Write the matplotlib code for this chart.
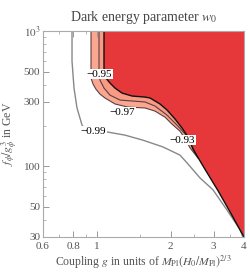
import matplotlib
matplotlib.use("Agg")
import matplotlib.pyplot as plt
from matplotlib.ticker import FixedLocator, FixedFormatter, NullFormatter
import numpy as np

plt.rcParams['font.family'] = ['Liberation Serif', 'DejaVu Serif']
plt.rcParams['mathtext.fontset'] = 'stix'

# contour w0 = -0.93 (boundary of red region)
g_093 = [1.067, 1.067, 1.087, 1.129, 1.184, 1.265, 1.390, 1.571, 1.648, 1.810, 1.934,
         2.085, 2.228, 2.357, 2.472, 2.768, 3.130, 3.506, 4.0]
f_093 = [1000, 515, 449, 413, 379, 348, 331, 325, 320, 289, 261,
         224, 192, 165, 134, 95, 66, 46, 30]
# contour w0 = -0.95
g_095 = [1.018, 1.018, 1.027, 1.067, 1.129, 1.241, 1.390, 1.571, 1.727, 1.934,
         2.146, 2.336, 2.449, 2.543]
f_095 = [1000, 515, 434, 379, 336, 309, 304, 299, 279, 239,
         198, 167, 141, 123]
# contour w0 = -0.97
g_097 = [0.944, 0.944, 0.962, 0.989, 1.027, 1.077, 1.184, 1.338, 1.571, 1.727,
         1.898, 2.028, 2.186, 2.314, 2.403, 2.591]
f_097 = [1000, 449, 406, 372, 342, 320, 289, 274, 270, 256,
         231, 205, 182, 156, 137, 115]
# contour w0 = -0.99
g_099 = [0.789, 0.789, 0.804, 0.827, 0.867, 0.884, 0.967, 1.108, 1.301, 1.542, 1.862,
         2.186, 2.336, 2.641, 2.985, 3.406, 3.853, 3.96]
f_099 = [1000, 600, 379, 270, 202, 192, 182, 179, 170, 156, 139,
         121, 106, 82, 67, 47.5, 34, 30]

labels = ['\u22120.99', '\u22120.97', '\u22120.95', '\u22120.93']
label_g = [0.967, 1.265, 1.018, 2.228]
label_f = [182, 252, 481, 156]

xticks = [0.6, 0.8, 1, 2, 3, 4]
xticklabels = ['0.6', '0.8', '1', '2', '3', '4']
yticks = [30, 50, 100, 300, 500, 1000]
yticklabels = ['30', '50', '100', '300', '500', '$10^3$']

c_red = '#E6373B'
c_sal1 = '#FBA690'
c_sal2 = '#F89A84'

fig = plt.figure(figsize=(2.5, 2.72), dpi=100)
ax = fig.add_axes([0.172, 0.1287, 0.804, 0.757])
ax.set_xscale('log')
ax.set_yscale('log')
ax.set_xlim(0.6, 4)
ax.set_ylim(30, 1000)


def region(gs, fs):
    # region to the right of a contour, closed along the -0.93 boundary and the right edge
    xs = list(gs)
    ys = list(fs)
    fmin = fs[-1]
    for g, f in zip(g_093, f_093):
        if f < fmin:
            xs.append(g)
            ys.append(f)
    xs += [4.0, 4.0]
    ys += [30, 1000]
    return xs, ys


x1, y1 = region(g_097, f_097)
ax.fill(x1, y1, color=c_sal1, lw=0, zorder=1)
x2, y2 = region(g_095, f_095)
ax.fill(x2, y2, color=c_sal2, lw=0, zorder=2)
x3 = list(g_093) + [4.0]
y3 = list(f_093) + [1000]
ax.fill(x3, y3, color=c_red, lw=0, zorder=3)

ax.plot(g_097, f_097, color='#5a4040', lw=0.8, zorder=4)
ax.plot(g_095, f_095, color='#5a4040', lw=0.8, zorder=4)
ax.plot(g_093, f_093, color='#111111', lw=1.0, zorder=5)
ax.plot(g_099, f_099, color='#888888', lw=1.0, zorder=4)

for t, g, f in zip(labels, label_g, label_f):
    ax.text(g, f, t, fontsize=8, ha='center', va='center', color='black', zorder=6,
            bbox=dict(fc='white', ec='none', pad=0.6))

ax.xaxis.set_major_locator(FixedLocator(xticks))
ax.xaxis.set_major_formatter(FixedFormatter(xticklabels))
ax.xaxis.set_minor_locator(FixedLocator([0.7, 0.9, 1.5, 2.5, 3.5]))
ax.xaxis.set_minor_formatter(NullFormatter())
ax.yaxis.set_major_locator(FixedLocator(yticks))
ax.yaxis.set_major_formatter(FixedFormatter(yticklabels))
ax.yaxis.set_minor_locator(FixedLocator([40, 60, 70, 80, 90, 200, 400, 600, 700, 800, 900]))
ax.yaxis.set_minor_formatter(NullFormatter())

for s in ax.spines.values():
    s.set_color('#aaaaaa')
    s.set_linewidth(0.8)
    s.set_zorder(7)
ax.tick_params(which='both', direction='in', top=True, right=True, color='#999999',
               labelsize=8, labelcolor='#555555')
ax.tick_params(axis='x', pad=3.5)
ax.tick_params(axis='y', pad=2)
ax.tick_params(which='major', length=4, width=0.7)
ax.tick_params(which='minor', length=2, width=0.5)

ax.set_title('Dark energy parameter $w_0$', fontsize=10, color='#444444', pad=7)
ax.set_xlabel('Coupling $g$ in units of $M_{\\rm Pl}(H_0/M_{\\rm Pl})^{2/3}$',
              fontsize=8.5, color='#555555', labelpad=2)
ax.set_ylabel('$f_\\phi/g_\\phi^3$ in GeV', fontsize=8.5, color='#555555', labelpad=3)

fig.savefig('out.png', dpi=100)
